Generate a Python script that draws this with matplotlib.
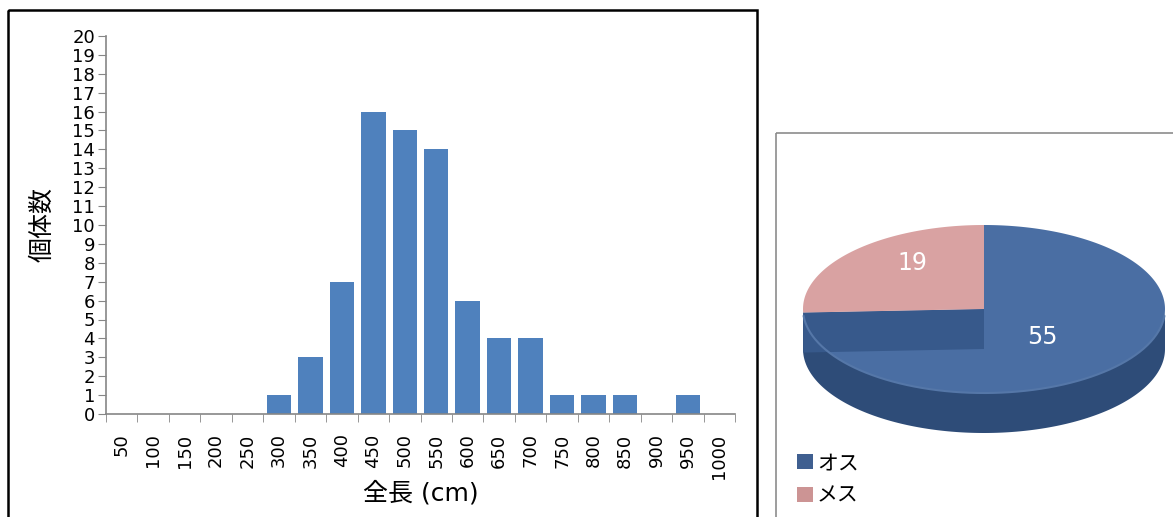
import numpy as np
import matplotlib
matplotlib.use("Agg")
import matplotlib.pyplot as plt
from matplotlib.patches import Polygon, Rectangle, Patch

plt.rcParams['font.family'] = ['DejaVu Sans', 'Noto Sans CJK JP']

# histogram data
lengths = ['50', '100', '150', '200', '250', '300', '350', '400', '450', '500',
           '550', '600', '650', '700', '750', '800', '850', '900', '950', '1000']
counts = [0, 0, 0, 0, 0, 1, 3, 7, 16, 15, 14, 6, 4, 4, 1, 1, 1, 0, 1, 0]

# sex ratio
sex_labels = ['オス', 'メス']
sex_counts = [55, 19]

W, H = 1173, 517
fig = plt.figure(figsize=(W / 100, H / 100), dpi=100)

# background axes in pixel coords for panel borders and the 3d-ish pie
bg = fig.add_axes([0, 0, 1, 1])
bg.set_xlim(0, W)
bg.set_ylim(H, 0)
bg.axis('off')
bg.add_patch(Rectangle((8, 10), 749, 520, fill=False, ec='black', lw=1.8, clip_on=False))
bg.add_patch(Rectangle((776, 133), 420, 420, fill=False, ec='#8c8c8c', lw=1.2, clip_on=False))

# bar chart
ax = fig.add_axes([106 / W, 1 - 414 / H, 629 / W, 378 / H])
x = np.arange(len(lengths))
ax.bar(x, counts, width=0.78, color='#4F81BD')
ax.set_xlim(-0.5, len(lengths) - 0.5)
ax.set_ylim(0, 20)
ax.set_yticks(range(0, 21))
ax.set_xticks(x)
ax.set_xticklabels(lengths, rotation=90, va='top', ha='center')
ax.set_xticks(np.arange(-0.5, len(lengths)), minor=True)
ax.tick_params(axis='x', which='major', length=0, labelsize=13, pad=14)
ax.tick_params(axis='x', which='minor', length=6, color='#868686')
ax.tick_params(axis='y', length=6, color='#868686', labelsize=13, pad=2)
for s in ['top', 'right']:
    ax.spines[s].set_visible(False)
for s in ['left', 'bottom']:
    ax.spines[s].set_color('#868686')
    ax.spines[s].set_linewidth(1.2)
ax.set_ylabel('個体数', fontsize=18, labelpad=13)
ax.set_xlabel('全長 (cm)', fontsize=18, labelpad=2)

# pseudo 3d pie
cx, cy, a, b, t = 984, 309, 181, 84, 40


def pt(theta, dy=0):
    th = np.radians(theta)
    return np.column_stack([cx + a * np.cos(th), cy - b * np.sin(th) + dy])


total = sum(sex_counts)
pink_ext = 360 * sex_counts[1] / total
pink_start, pink_end = 90, 90 + pink_ext

# side wall
th = np.linspace(180, 360, 200)
side = np.vstack([pt(th), pt(th[::-1], t)])
bg.add_patch(Polygon(side, closed=True, fc='#2E4C78', ec='none'))
bg.plot(*pt(np.linspace(185, 355, 200)).T, color='#5577a8', lw=1.5)

# blue top face
th = np.linspace(pink_end, 450, 300)
blue = np.vstack([[cx, cy], pt(th)])
bg.add_patch(Polygon(blue, closed=True, fc='#4A6EA3', ec='none'))

# cut face of blue slice
p = pt(np.array([pink_end]))[0]
cut = np.array([[cx, cy], p, p + [0, t], [cx, cy + t]])
bg.add_patch(Polygon(cut, closed=True, fc='#37598B', ec='none'))

# pink top face
th = np.linspace(pink_start, pink_end, 200)
pink = np.vstack([[cx, cy], pt(th)])
bg.add_patch(Polygon(pink, closed=True, fc='#D9A2A2', ec='none'))

# value labels
for val, mid, r, dy in [(sex_counts[1], (pink_start + pink_end) / 2, 0.55, -14),
                        (sex_counts[0], (pink_end + 450) / 2, 0.45, 2)]:
    q = pt(np.array([mid]))[0]
    lx = cx + r * (q[0] - cx)
    ly = cy + r * (q[1] - cy) + dy
    bg.text(lx, ly, str(val), color='white', fontsize=17, ha='center', va='center')

handles = [Patch(fc='#3F5F90', ec='none'), Patch(fc='#CC9494', ec='none')]
bg.legend(handles, sex_labels, loc='upper left', bbox_to_anchor=(797 / W, 1 - 453 / H),
          bbox_transform=fig.transFigure, frameon=False, fontsize=15,
          handlelength=0.75, handleheight=0.75, handletextpad=0.2, labelspacing=0.6,
          borderaxespad=0, borderpad=0)

fig.savefig('out.png', dpi=100)
